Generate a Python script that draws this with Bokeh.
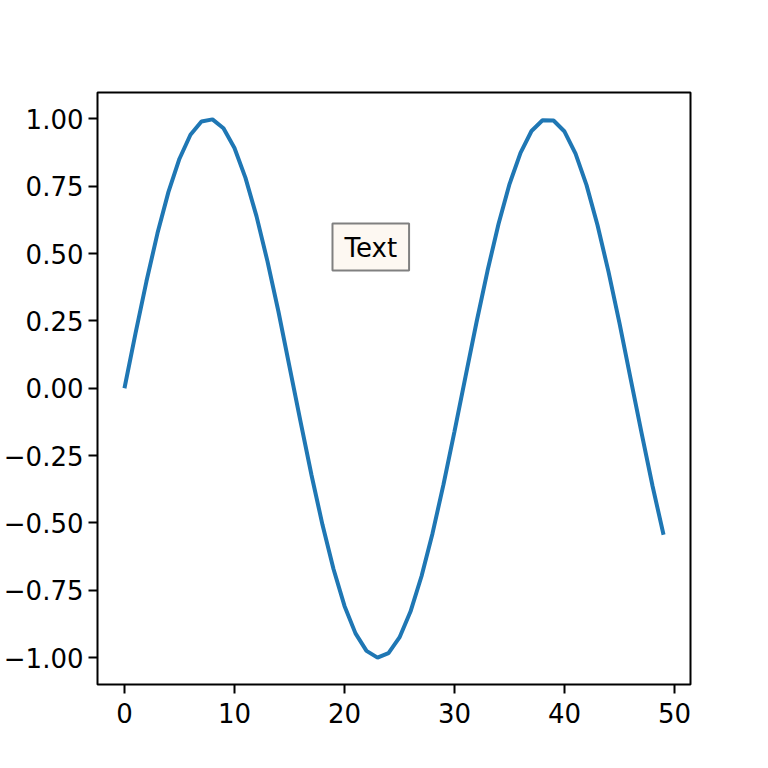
from bokeh.plotting import figure
from bokeh.models import Range1d, FixedTicker, Label
from bokeh.embed import file_html
from bokeh.resources import INLINE

# data
x_vals = list(range(50))
y_vals = [0.000, 0.203, 0.397, 0.575, 0.729, 0.852, 0.941, 0.990, 0.998, 0.965,
          0.892, 0.781, 0.639, 0.471, 0.284, 0.080, -0.123, -0.322, -0.507, -0.671,
          -0.808, -0.910, -0.975, -1.000, -0.983, -0.925, -0.829, -0.698, -0.539, -0.357,
          -0.160, 0.043, 0.245, 0.436, 0.610, 0.758, 0.874, 0.955, 0.995, 0.994,
          0.953, 0.871, 0.754, 0.605, 0.432, 0.241, 0.037, -0.166, -0.363, -0.544]
x_ticks = [0, 10, 20, 30, 40, 50]
y_ticks = [-1.0, -0.75, -0.5, -0.25, 0.0, 0.25, 0.5, 0.75, 1.0]
y_tick_labels = ["−1.00", "−0.75", "−0.50", "−0.25", "0.00", "0.25", "0.50", "0.75", "1.00"]
note_text = "Text"
note_x, note_y = 20, 0.5

FONT = "DejaVu Sans"
FS = "26px"

p = figure(width=698, height=760, output_backend="svg", toolbar_location=None,
           x_range=Range1d(-2.45, 51.45), y_range=Range1d(-1.0998, 1.0979),
           min_border_left=88, min_border_right=8, min_border_top=92, min_border_bottom=76)
p.background_fill_color = "white"
p.border_fill_color = "white"
p.grid.visible = False
p.outline_line_color = "black"
p.outline_line_width = 2
p.outline_line_alpha = 1.0

for ax in (p.xaxis[0], p.yaxis[0]):
    ax.axis_line_color = None
    ax.major_tick_line_color = "black"
    ax.major_tick_line_width = 2
    ax.major_tick_out = 9
    ax.major_tick_in = 0
    ax.minor_tick_line_color = None
    ax.major_label_text_font = FONT
    ax.major_label_text_font_size = FS
    ax.major_label_text_color = "black"
    ax.major_label_standoff = 9
p.yaxis[0].major_label_standoff = 5

p.xaxis[0].ticker = FixedTicker(ticks=x_ticks)
p.yaxis[0].ticker = FixedTicker(ticks=y_ticks)
p.yaxis[0].major_label_overrides = {t: l for t, l in zip(y_ticks, y_tick_labels)}

p.line(x_vals, y_vals, line_color="#1f77b4", line_width=4)

lab = Label(x=note_x, y=note_y, text=note_text, text_font=FONT, text_font_size=FS,
            text_color="black", text_align="left", text_baseline="bottom",
            x_offset=-12, y_offset=-17,
            background_fill_color="#fdf8f2", border_line_color="#808080",
            border_line_width=2, padding=dict(left=12, right=12, top=9, bottom=8))
p.add_layout(lab)

open("out.html", "w").write(file_html(p, INLINE))
